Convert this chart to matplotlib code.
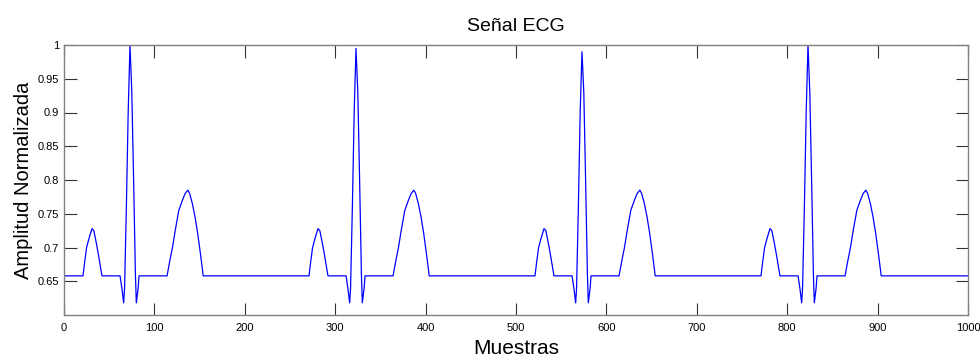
import matplotlib
matplotlib.use("Agg")
import matplotlib.pyplot as plt
import numpy as np

# One heartbeat template: (sample offset, normalized amplitude) vertices
beat_samples = [0, 21, 23, 25, 28, 31, 33, 36, 38, 42,
                62, 64, 66, 67, 69, 71, 73, 75, 77, 79, 80, 82, 83,
                114, 117, 120, 123, 127, 131, 134, 137, 139, 142, 145, 148, 151, 154, 250]
beat_values = [0.658, 0.658, 0.680, 0.700, 0.715, 0.728, 0.725, 0.705, 0.690, 0.658,
               0.658, 0.640, 0.618, 0.640, 0.760, 0.900, 1.000, 0.930, 0.800, 0.660, 0.618, 0.640, 0.658,
               0.658, 0.680, 0.700, 0.725, 0.755, 0.770, 0.780, 0.785, 0.780, 0.765, 0.745, 0.720, 0.690, 0.658, 0.658]
beat_starts = [0, 250, 500, 750]
r_peaks = [1.0, 0.995, 0.99, 1.0]
r_index = beat_samples.index(73)

xs, ys = [], []
for start, rp in zip(beat_starts, r_peaks):
    vals = list(beat_values)
    vals[r_index] = rp
    xs.extend([start + s for s in beat_samples])
    ys.extend(vals)

x_ticks = list(range(0, 1001, 100))
y_ticks = [0.65, 0.7, 0.75, 0.8, 0.85, 0.9, 0.95, 1.0]

plt.rcParams['font.family'] = ['Liberation Sans', 'DejaVu Sans']

fig = plt.figure(figsize=(9.8, 3.62), dpi=100)
ax = fig.add_axes([64/980, 47/362, (968-64)/980, (315-45)/362])
ax.plot(xs, ys, color='#0000ff', lw=0.9)
ax.set_xlim(0, 1000)
ax.set_ylim(0.6, 1.0)
ax.set_xticks(x_ticks)
ax.set_yticks(y_ticks)
ax.set_yticklabels(['%g' % v for v in y_ticks])
ax.tick_params(direction='in', length=9, width=0.8, labelsize=8, top=True, right=True,
               colors='#333333', labelcolor='black')
ax.tick_params(axis='x', pad=6)
for sp in ax.spines.values():
    sp.set_color('#808080')
    sp.set_linewidth(1.0)
ax.set_title('Señal ECG', fontsize=14, pad=10)
ax.set_xlabel('Muestras', fontsize=15, labelpad=4)
ax.set_ylabel('Amplitud Normalizada', fontsize=14.5, labelpad=3)
fig.savefig('out.png', dpi=100)
